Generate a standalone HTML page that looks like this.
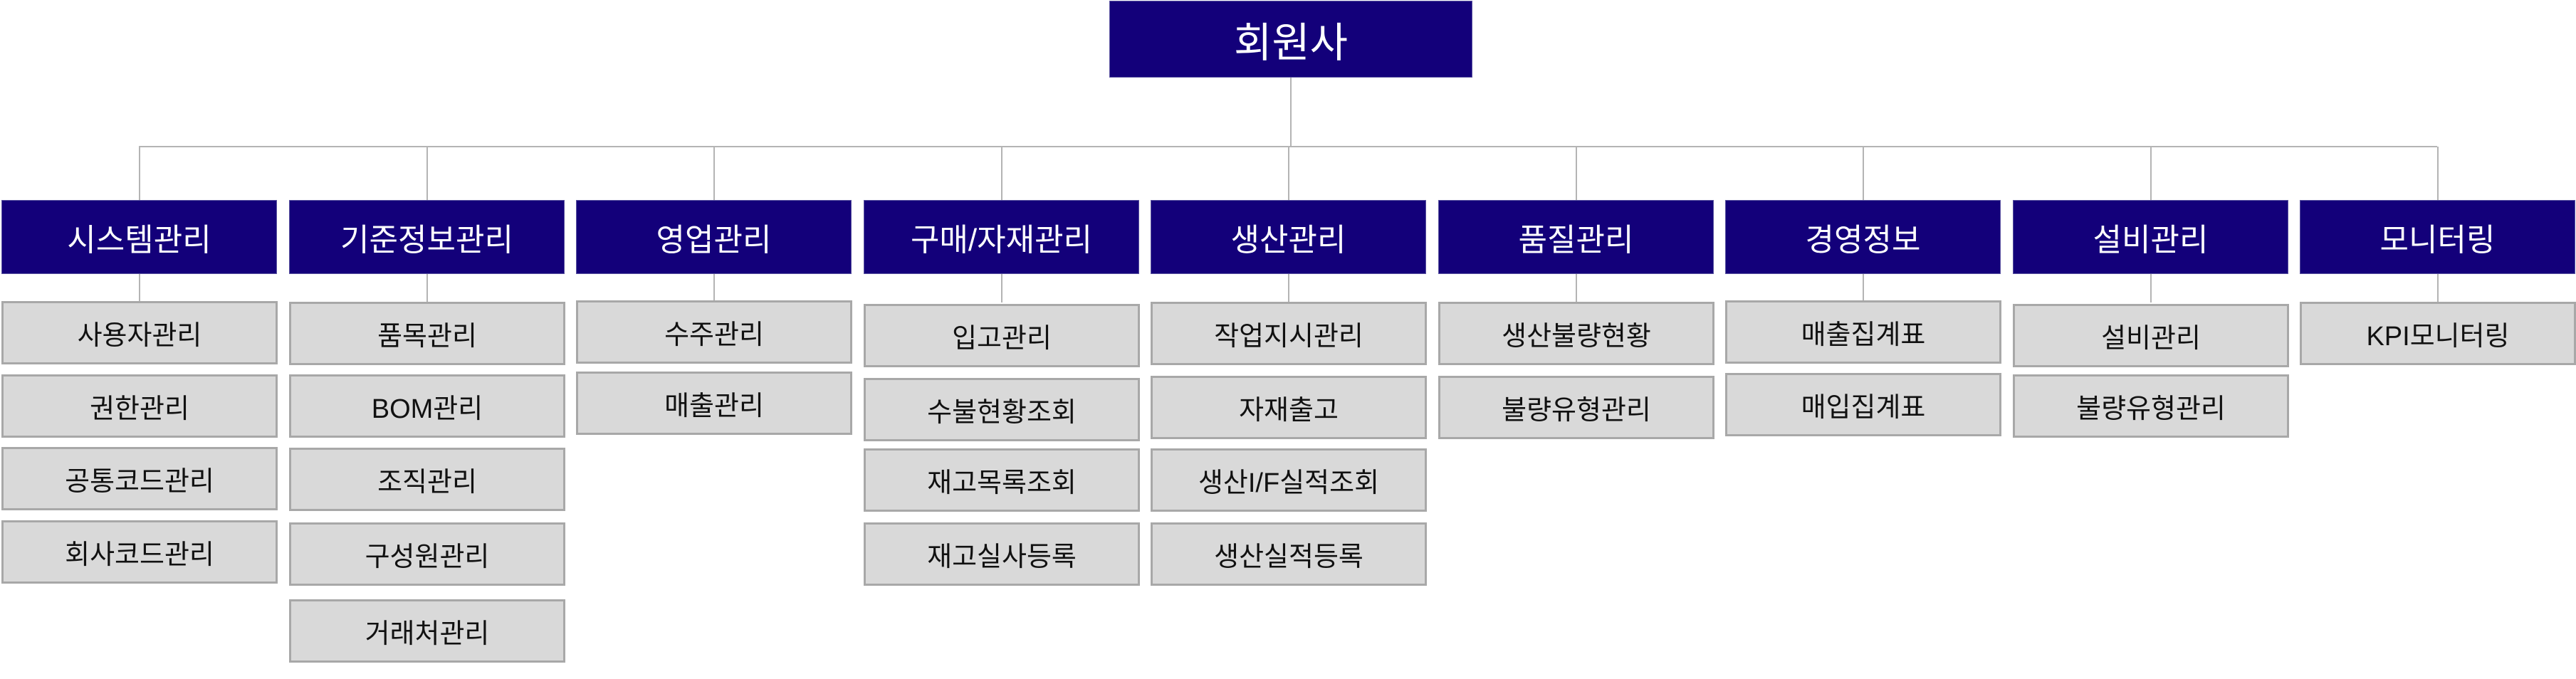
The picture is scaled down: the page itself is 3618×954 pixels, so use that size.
<!DOCTYPE html>
<html><head><meta charset="utf-8"><style>
body{margin:0;width:3618px;height:954px;background:#fff;position:relative;overflow:hidden;font-family:"Liberation Sans","Noto Sans CJK KR",sans-serif}
.b{position:absolute;display:flex;align-items:center;justify-content:center;box-sizing:border-box}
.n{background:#13007a;color:#fff;font-size:44px;border:1px solid #5a52a0}
.s{background:#d9d9d9;color:#111;font-size:38px;border:3px solid #a8a8a8}
.l{position:absolute;background:#b4b4b4}
</style></head><body>
<div class="b n" style="left:1558px;top:1px;width:510px;height:108px;font-size:58px">회원사</div>
<div class="l" style="left:1812px;top:109px;width:2px;height:97px"></div>
<div class="l" style="left:195px;top:205px;width:3228px;height:2px"></div>
<div id="c"></div>
<script>
var names=["시스템관리","기준정보관리","영업관리","구매/자재관리","생산관리","품질관리","경영정보","설비관리","모니터링"];
var subs=[["사용자관리","권한관리","공통코드관리","회사코드관리"],["품목관리","BOM관리","조직관리","구성원관리","거래처관리"],["수주관리","매출관리"],["입고관리","수불현황조회","재고목록조회","재고실사등록"],["작업지시관리","자재출고","생산I/F실적조회","생산실적등록"],["생산불량현황","불량유형관리"],["매출집계표","매입집계표"],["설비관리","불량유형관리"],["KPI모니터링"]];
var tops=[[423,526,628,731],[424,526,629,734,842],[422,522],[427,531,630,734],[424,528,630,734],[424,528],[422,524],[427,526],[424]];
var h="";
for(var i=0;i<9;i++){var x=Math.round(2+i*403.5),cx=x+193;
h+='<div class="l" style="left:'+cx+'px;top:206px;width:2px;height:75px"></div>';
h+='<div class="l" style="left:'+cx+'px;top:385px;width:2px;height:40px"></div>';
h+='<div class="b n" style="left:'+x+'px;top:281px;width:387px;height:104px">'+names[i]+'</div>';
for(var j=0;j<subs[i].length;j++){h+='<div class="b s" style="left:'+x+'px;top:'+tops[i][j]+'px;width:388px;height:89px">'+subs[i][j]+'</div>';}}
document.getElementById("c").innerHTML=h;
</script>
</body></html>
